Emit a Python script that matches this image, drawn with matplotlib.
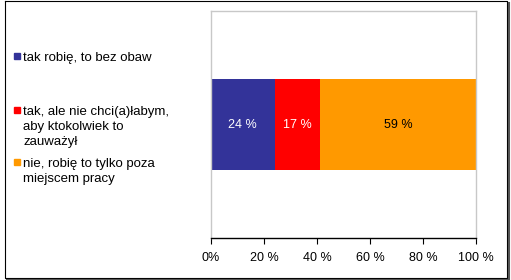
import matplotlib.pyplot as plt
from matplotlib.patches import Rectangle
from matplotlib.lines import Line2D

plt.rcParams['font.family'] = ['Liberation Sans', 'DejaVu Sans']

labels = ['tak robię, to bez obaw',
          'tak, ale nie chci(a)łabym,\naby ktokolwiek to\nzauważył',
          'nie, robię to tylko poza\nmiejscem pracy']
values = [24, 17, 59]
colors = ['#333399', '#FF0000', '#FF9900']
text_colors = ['white', 'white', 'black']
ticks = [0, 20, 40, 60, 80, 100]

W, H = 511, 280
fig = plt.figure(figsize=(W / 100, H / 100), dpi=100)

# plot area in pixels: x 211..476, y 11..238
ax = fig.add_axes([211 / W, 1 - 238 / H, (476 - 211) / W, (238 - 11) / H])

left = 0
for v, c, tc in zip(values, colors, text_colors):
    ax.barh(0, v, left=left, height=0.4, color=c, edgecolor='none')
    ax.text(left + v / 2, 0, '%d %%' % v, ha='center', va='center',
            color=tc, fontsize=9)
    left += v

ax.set_xlim(0, 100)
ax.set_ylim(-0.5, 0.5)
ax.set_yticks([])
ax.set_xticks(ticks)
ax.set_xticklabels(['0%'] + ['%d %%' % t for t in ticks[1:]], fontsize=9)
ax.tick_params(axis='x', length=4, width=0.8, color='black', pad=6)
for s in ['top', 'left', 'right']:
    ax.spines[s].set_color('#c8c8c8')
    ax.spines[s].set_linewidth(1)
ax.spines['bottom'].set_color('black')
ax.spines['bottom'].set_linewidth(1)

# legend
leg_y = [56, 110, 162]
for lab, c, y in zip(labels, colors, leg_y):
    fig.patches.append(Rectangle((14 / W, 1 - (y + 3) / H), 6 / W, 6 / H,
                                 transform=fig.transFigure, color=c))
    fig.text(23 / W, 1 - (y - 4.5) / H, lab, fontsize=9.5, va='top',
             linespacing=1.35)

# chart frame with shadow
fig.lines.append(Line2D([5 / W, 5 / W, 507 / W, 507 / W, 5 / W],
                        [1 - 1 / H, 1 - 278 / H, 1 - 278 / H, 1 - 1 / H, 1 - 1 / H],
                        transform=fig.transFigure, color='black', lw=0.8))
fig.lines.append(Line2D([7 / W, 509 / W, 509 / W],
                        [1 - 279.5 / H, 1 - 279.5 / H, 1 - 3 / H],
                        transform=fig.transFigure, color='#555555', lw=1.5))

fig.savefig('out.png', dpi=100)
